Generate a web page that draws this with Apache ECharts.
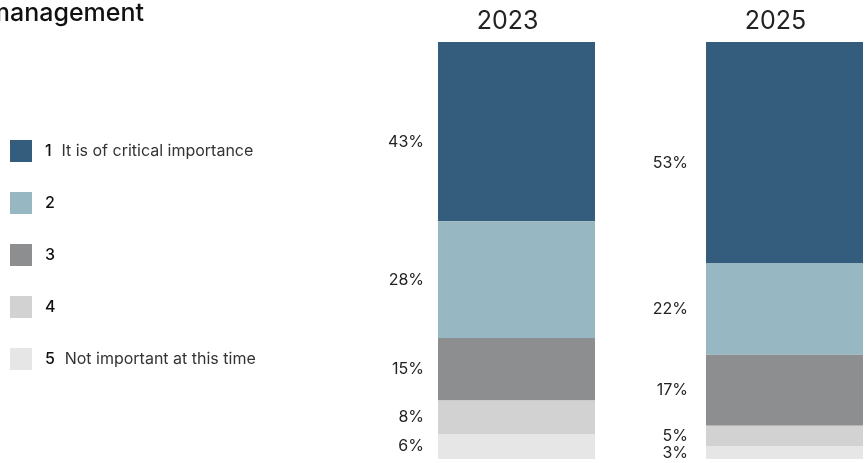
<!DOCTYPE html>
<html>
<head>
<meta charset="utf-8">
<script src="https://cdn.jsdelivr.net/npm/echarts@6/dist/echarts.min.js"></script>
<style>
  html, body { margin: 0; padding: 0; background: #fff; }
  #chart { width: 866px; height: 463px; }
</style>
</head>
<body>
<div id="chart"></div>
<script>
// Survey responses per year, rating 1 (critical) to 5 (not important)
const years = ['2023', '2025'];
const levelNums = ['1', '2', '3', '4', '5'];
const levelTexts = ['It is of critical importance', '', '', '', 'Not important at this time'];
const values2023 = [43, 28, 15, 8, 6];
const values2025 = [53, 22, 17, 5, 3];
const colors = ['#345c7c', '#97b8c2', '#8d8e90', '#d2d2d2', '#e6e6e6'];

const valuesByYear = [values2023, values2025];
const names = levelNums.map((n, i) => levelTexts[i] ? n + ' ' + levelTexts[i] : n);
const FONT = 'Inter, Roboto, sans-serif';

const gridLefts = [438, 706];
const labelGaps = [14, 18];

const grids = years.map((y, g) => ({ left: gridLefts[g], width: 157, top: 42, bottom: 4 }));
const xAxes = years.map((y, g) => ({
  type: 'category', gridIndex: g, data: [y], position: 'top',
  axisLine: { show: false }, axisTick: { show: false },
  axisLabel: { fontSize: 25, color: '#222', fontFamily: FONT, margin: 8, padding: [0, 18, 0, 0] }
}));
const yAxes = years.map((y, g) => ({
  type: 'value', gridIndex: g, min: 0, max: 100, inverse: true, show: false
}));

const series = [];
years.forEach((y, g) => {
  names.forEach((name, i) => {
    series.push({
      type: 'bar', name: name, stack: 'y' + g,
      xAxisIndex: g, yAxisIndex: g,
      barWidth: 157,
      itemStyle: { color: colors[i] },
      label: {
        show: true, position: 'left', distance: labelGaps[g],
        offset: i === 0 ? [0, 11] : [0, 0],
        formatter: '{c}%', fontSize: 16, color: '#222', fontFamily: FONT
      },
      data: [valuesByYear[g][i]]
    });
  });
});

const chart = echarts.init(document.getElementById('chart'));
chart.setOption({
  animation: false,
  color: colors,
  graphic: [{
    type: 'text', right: 866 - 144, top: 1,
    style: { text: 'management', fontSize: 25, fontWeight: 500, fill: '#111', fontFamily: FONT }
  }],
  legend: {
    orient: 'vertical', left: 10, top: 140, padding: 0,
    itemWidth: 22, itemHeight: 22, itemGap: 30,
    icon: 'rect', selectedMode: false,
    data: names,
    formatter: function (name) {
      const i = names.indexOf(name);
      return levelTexts[i] ? '{n|' + levelNums[i] + '}  {t|' + levelTexts[i] + '}' : '{n|' + levelNums[i] + '}';
    },
    textStyle: {
      fontFamily: FONT, padding: [0, 0, 0, 8],
      rich: {
        n: { fontSize: 16, fontWeight: 500, color: '#111', fontFamily: FONT },
        t: { fontSize: 16, color: '#333', fontFamily: FONT, padding: [0, 0, 0, 3] }
      }
    }
  },
  grid: grids,
  xAxis: xAxes,
  yAxis: yAxes,
  series: series
});
</script>
</body>
</html>
